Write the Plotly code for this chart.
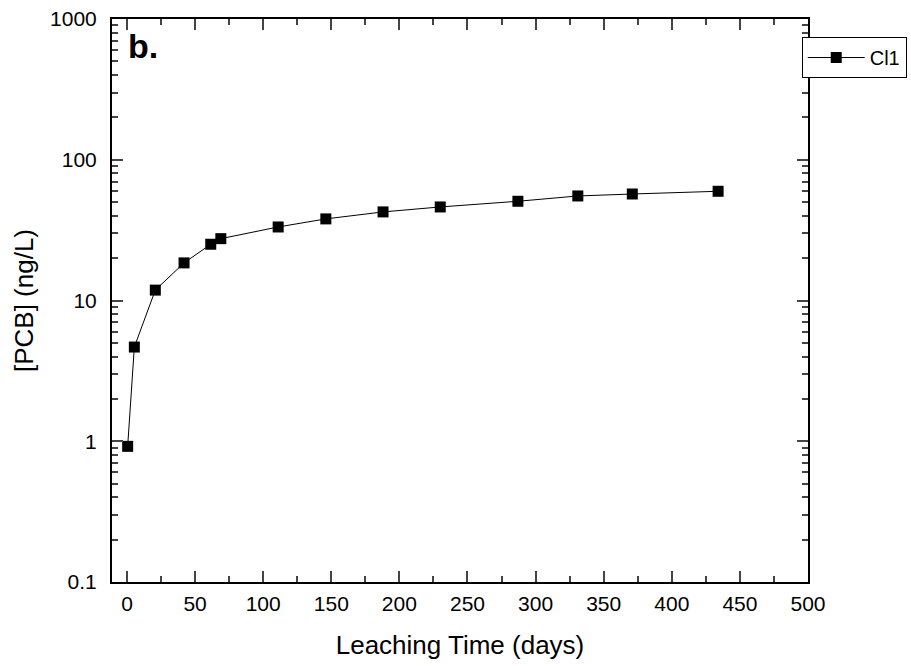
import plotly.graph_objects as go

days = [0.5, 5.4, 20.8, 41.9, 61.5, 68.9, 111, 146, 188, 230, 287, 331, 371, 434]
pcb = [0.92, 4.67, 11.85, 18.5, 25.1, 27.5, 33.3, 38.0, 42.6, 46.2, 50.7, 55.3, 57.1, 59.7]
series_name = "Cl1"
x_ticks = [0, 50, 100, 150, 200, 250, 300, 350, 400, 450, 500]
y_ticks = [0.1, 1, 10, 100, 1000]
y_ticktext = ["0.1", "1", "10", "100", "1000"]

fig = go.Figure()
fig.add_trace(go.Scatter(
    x=days, y=pcb, mode="lines+markers", name=series_name,
    line=dict(color="black", width=1),
    marker=dict(symbol="square", size=11, color="black"),
))

font = "Liberation Sans, Arial, sans-serif"
fig.update_layout(
    width=911, height=666,
    margin=dict(l=112, r=103, t=19, b=84, autoexpand=False),
    paper_bgcolor="white", plot_bgcolor="white",
    font=dict(family=font, color="black", size=20),
    showlegend=True,
    legend=dict(x=0.991, y=0.968, xanchor="left", yanchor="top",
                bordercolor="black", borderwidth=1, bgcolor="white",
                itemwidth=57, font=dict(size=20, family=font)),
    xaxis=dict(
        range=[-11, 500], tickvals=x_ticks, ticks="inside", ticklen=11, tickwidth=2,
        showline=True, linewidth=2, linecolor="black", mirror="ticks",
        showgrid=False, zeroline=False, ticklabelstandoff=2, automargin=False,
        minor=dict(ticks="inside", ticklen=6, tickwidth=2, dtick=25, showgrid=False),
        title=dict(text="Leaching Time (days)", font=dict(size=26), standoff=22),
        tickfont=dict(size=21),
    ),
    yaxis=dict(
        type="log", range=[-1, 3], tickvals=y_ticks, ticktext=y_ticktext,
        ticks="inside", ticklen=11, tickwidth=2,
        showline=True, linewidth=2, linecolor="black", mirror="ticks",
        showgrid=False, zeroline=False, ticklabelstandoff=9, automargin=False,
        minor=dict(ticks="inside", ticklen=6, tickwidth=2, dtick="D1", showgrid=False),
        title=dict(text="[PCB] (ng/L)", font=dict(size=26), standoff=9),
        tickfont=dict(size=21),
    ),
)
fig.add_annotation(text="<b>b.</b>", xref="paper", yref="paper", x=0.02, y=0.99,
                   xanchor="left", yanchor="top", showarrow=False,
                   font=dict(size=34, family=font, color="black"))

fig.write_html("out.html")
